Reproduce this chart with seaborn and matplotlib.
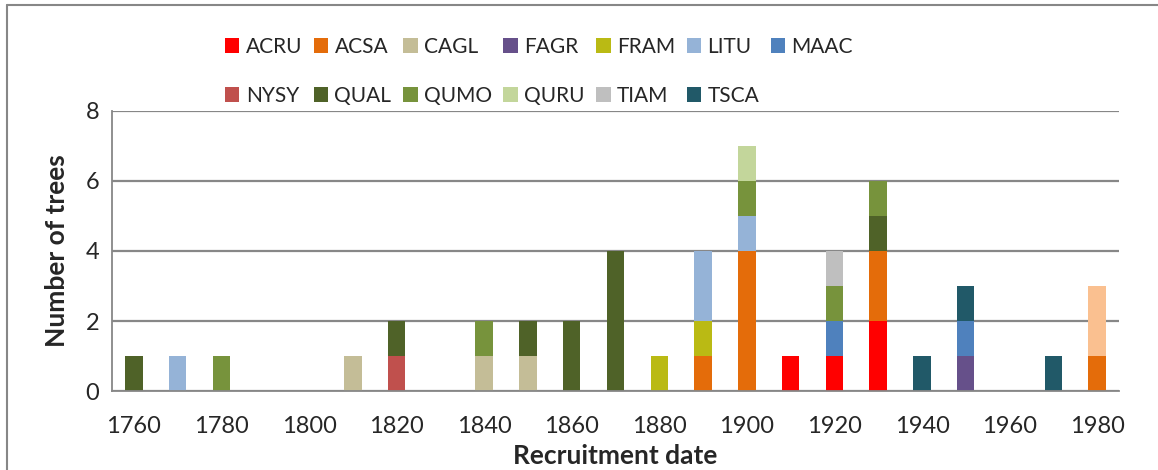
import numpy as np
import pandas as pd
import seaborn as sns
from matplotlib import pyplot as plt
from matplotlib.patches import Patch
from matplotlib.lines import Line2D

# decades on the x axis
decades = [str(y) for y in range(1760, 1990, 10)]

# species in stacking order (bottom to top); the last one has no legend entry
species = ['ACRU', 'ACSA', 'CAGL', 'FAGR', 'FRAM', 'LITU', 'MAAC',
           'NYSY', 'QUAL', 'QUMO', 'QURU', 'TIAM', 'TSCA', '']
colors = ['#FF0000', '#E46C0A', '#C4BD97', '#66508A', '#BABA14', '#95B3D7', '#4F81BD',
          '#C0504D', '#4F6228', '#77933C', '#C3D69B', '#BFBFBF', '#215968', '#FAC090']

# counts per decade               1760 ... 1980
ACRU = [0, 0, 0, 0, 0, 0, 0, 0, 0, 0, 0, 0, 0, 0, 0, 1, 1, 2, 0, 0, 0, 0, 0]
ACSA = [0, 0, 0, 0, 0, 0, 0, 0, 0, 0, 0, 0, 0, 1, 4, 0, 0, 2, 0, 0, 0, 0, 1]
CAGL = [0, 0, 0, 0, 0, 1, 0, 0, 1, 1, 0, 0, 0, 0, 0, 0, 0, 0, 0, 0, 0, 0, 0]
FAGR = [0, 0, 0, 0, 0, 0, 0, 0, 0, 0, 0, 0, 0, 0, 0, 0, 0, 0, 0, 1, 0, 0, 0]
FRAM = [0, 0, 0, 0, 0, 0, 0, 0, 0, 0, 0, 0, 1, 1, 0, 0, 0, 0, 0, 0, 0, 0, 0]
LITU = [0, 1, 0, 0, 0, 0, 0, 0, 0, 0, 0, 0, 0, 2, 1, 0, 0, 0, 0, 0, 0, 0, 0]
MAAC = [0, 0, 0, 0, 0, 0, 0, 0, 0, 0, 0, 0, 0, 0, 0, 0, 1, 0, 0, 1, 0, 0, 0]
NYSY = [0, 0, 0, 0, 0, 0, 1, 0, 0, 0, 0, 0, 0, 0, 0, 0, 0, 0, 0, 0, 0, 0, 0]
QUAL = [1, 0, 0, 0, 0, 0, 1, 0, 0, 1, 2, 4, 0, 0, 0, 0, 0, 1, 0, 0, 0, 0, 0]
QUMO = [0, 0, 1, 0, 0, 0, 0, 0, 1, 0, 0, 0, 0, 0, 1, 0, 1, 1, 0, 0, 0, 0, 0]
QURU = [0, 0, 0, 0, 0, 0, 0, 0, 0, 0, 0, 0, 0, 0, 1, 0, 0, 0, 0, 0, 0, 0, 0]
TIAM = [0, 0, 0, 0, 0, 0, 0, 0, 0, 0, 0, 0, 0, 0, 0, 0, 1, 0, 0, 0, 0, 0, 0]
TSCA = [0, 0, 0, 0, 0, 0, 0, 0, 0, 0, 0, 0, 0, 0, 0, 0, 0, 0, 1, 1, 0, 1, 0]
OTHER = [0, 0, 0, 0, 0, 0, 0, 0, 0, 0, 0, 0, 0, 0, 0, 0, 0, 0, 0, 0, 0, 0, 2]

counts = [ACRU, ACSA, CAGL, FAGR, FRAM, LITU, MAAC, NYSY, QUAL, QUMO, QURU, TIAM, TSCA, OTHER]

sns.set_style('white')
plt.rcParams['font.family'] = ['Lato', 'DejaVu Sans']

df = pd.DataFrame(np.array(counts).T, columns=species, index=decades)
cum = df.cumsum(axis=1)

fig = plt.figure(figsize=(11.58, 4.70), dpi=100)
ax = fig.add_axes([0.0967, 0.168, 0.8696, 0.596])

# stacked bars: draw cumulative totals from the top layer down
for sp, col in reversed(list(zip(species, colors))):
    sns.barplot(x=decades, y=cum[sp].values, order=decades, color=col,
                width=0.4, ax=ax, saturation=1, linewidth=0)

ax.set_ylim(0, 8)
ax.set_xlim(-0.5, len(decades) - 0.5)
ax.set_yticks([0, 2, 4, 6, 8])
ax.yaxis.grid(True, color='#878787', linewidth=1.6)
ax.set_axisbelow(True)

ax.set_xticks(range(0, len(decades), 2))
ax.set_xticklabels(decades[::2])
ax.set_xticks(np.arange(-0.5, len(decades), 1), minor=True)
ax.tick_params(axis='x', which='major', length=0, pad=18, labelsize=17)
ax.tick_params(axis='x', which='minor', length=7, width=1.3, color='#878787', direction='out')
ax.tick_params(axis='y', length=6, width=1.3, color='#878787', direction='out', pad=3, labelsize=17)

for s in ['top', 'right']:
    ax.spines[s].set_visible(False)
for s in ['left', 'bottom']:
    ax.spines[s].set_color('#878787')
    ax.spines[s].set_linewidth(1.3)

ax.set_xlabel('Recruitment date', fontsize=19, fontweight='bold', labelpad=5)
ax.set_ylabel('Number of trees', fontsize=19, fontweight='bold', labelpad=12)

# legend filled row by row (matplotlib fills columns first)
labels = species[:-1]
handles = [Patch(facecolor=c, edgecolor='none') for c in colors[:-1]]
order = [0, 7, 1, 8, 2, 9, 3, 10, 4, 11, 5, 12, 6]
fig.legend([handles[i] for i in order], [labels[i] for i in order], ncol=7,
           loc='upper left', bbox_to_anchor=(0.178, 0.962),
           frameon=False, fontsize=15, handlelength=0.7, handleheight=0.7,
           handletextpad=0.3, columnspacing=0.55, labelspacing=1.4)

# outer chart frame (top and left edges visible)
fig.add_artist(Line2D([0.006, 1.0], [0.989, 0.989], color='#878787', linewidth=1.5))
fig.add_artist(Line2D([0.006, 0.006], [0.0, 0.989], color='#878787', linewidth=1.5))

fig.savefig('out.png', dpi=100)
